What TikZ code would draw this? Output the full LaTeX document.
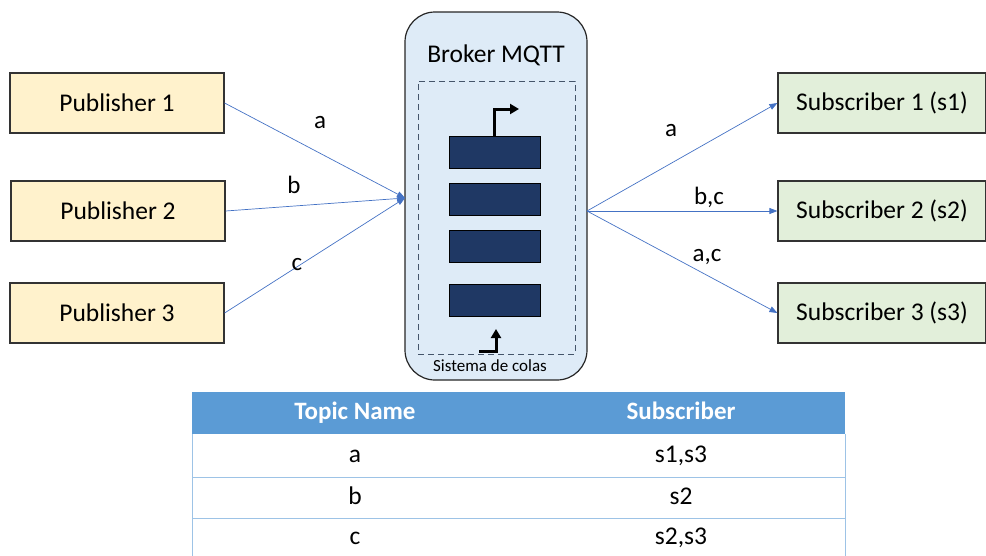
\documentclass[tikz,border=0pt]{standalone}
\usepackage{fontspec}
\setmainfont{Carlito}
\usetikzlibrary{arrows.meta}
\definecolor{pubfill}{HTML}{FFF2CC}
\definecolor{subfill}{HTML}{E2EFDA}
\definecolor{brokfill}{HTML}{DEEBF7}
\definecolor{conn}{HTML}{4472C4}
\definecolor{qbar}{HTML}{1F3864}
\definecolor{dashc}{HTML}{44546A}
\definecolor{thead}{HTML}{5B9BD5}
\definecolor{tline}{HTML}{9DC3E6}
\tikzset{
  box/.style={draw=black!80, line width=1.2pt, minimum width=214pt, minimum height=60pt, inner sep=0pt, font=\fontsize{25.5}{30}\selectfont},
  pub/.style={box, fill=pubfill},
  sub/.style={box, fill=subfill, minimum width=208pt},
  qbarst/.style={draw=black, line width=1pt, fill=qbar, minimum width=91pt, minimum height=32pt, inner sep=0pt},
  conn/.style={draw=conn, line width=0.7pt, -{Triangle[length=8pt,width=6pt]}},
  lbl/.style={font=\fontsize{25}{28}\selectfont, inner sep=1pt},
  qarrow/.style={draw=black, line width=3pt, -{Triangle[length=9pt,width=10pt]}},
  tcell/.style={minimum width=326pt, inner sep=0pt, text height=17pt, text depth=5pt, font=\fontsize{25.5}{28}\selectfont},
}
\begin{document}
\begin{tikzpicture}[x=1pt,y=-1pt]
\useasboundingbox (0,0) rectangle (986,555);
\clip (0,0) rectangle (986,555);
% publishers
\node[pub] (p1) at (117,103) {Publisher 1};
\node[pub] (p2) at (118,211) {Publisher 2};
\node[pub] (p3) at (117,313) {Publisher 3};
% subscribers
\node[sub] (s1) at (882,103) {Subscriber 1 (s1)};
\node[sub] (s2) at (882,211) {Subscriber 2 (s2)};
\node[sub] (s3) at (882,313) {Subscriber 3 (s3)};
% broker
\node[draw=black!85, line width=1.2pt, fill=brokfill, rounded corners=30pt, minimum width=182pt, minimum height=368pt, inner sep=0pt] (broker) at (496,196) {};
\node[font=\fontsize{25.5}{30}\selectfont] (btitle) at (496,55) {Broker MQTT};
\node[draw=dashc, dashed, line width=1pt, dash pattern=on 6pt off 4pt, minimum width=157pt, minimum height=273pt, inner sep=0pt] (queue) at (496.5,217.5) {};
\node[font=\fontsize{17}{20}\selectfont] (qlabel) at (490,366) {Sistema de colas};
\node[qbarst] (q1) at (494.5,152) {};
\node[qbarst] (q2) at (494.5,199) {};
\node[qbarst] (q3) at (494.5,246) {};
\node[qbarst] (q4) at (494.5,300) {};
\coordinate (qoutend) at (519,109);
\coordinate (qinstart) at (479,351);
\coordinate (qinend) at (496,329);
\draw[qarrow] (q1.north) |- (qoutend);
\draw[qarrow] (qinstart) -| (qinend);
% connectors
\coordinate (bin) at (405,198);
\coordinate (bout) at (587,211);
\draw[conn] (p1.east) -- (bin);
\draw[conn] (p2.east) -- (bin);
\draw[conn] (p3.east) -- (bin);
\draw[conn] (bout) -- (s1.west);
\draw[conn] (bout) -- (s2.west);
\draw[conn] (bout) -- (s3.west);
\node[lbl] (la) at (320,123) {a};
\node[lbl] (lb) at (294,185) {b};
\node[lbl] (lc) at (297,265) {c};
\node[lbl] (ra) at (671,131) {a};
\node[lbl] (rbc) at (709,197) {b,c};
\node[lbl] (rac) at (707,257) {a,c};
% table
\fill[thead] (192,392) rectangle (845,434);
\draw[tline, line width=0.8pt] (192,434) -- (192,560) (845,434) -- (845,560);
\draw[tline, line width=0.8pt] (192,477) -- (845,477) (192,518) -- (845,518);
\node[tcell, text=white, font=\fontsize{25}{28}\selectfont\bfseries] (h1) at (355,413) {Topic Name};
\node[tcell, text=white, font=\fontsize{25}{28}\selectfont\bfseries] (h2) at (681,413) {Subscriber};
\node[tcell] (r1a) at (355,456) {a};
\node[tcell] (r1b) at (681,456) {s1,s3};
\node[tcell] (r2a) at (355,498) {b};
\node[tcell] (r2b) at (681,498) {s2};
\node[tcell] (r3a) at (355,538) {c};
\node[tcell] (r3b) at (681,538) {s2,s3};
\end{tikzpicture}
\end{document}
